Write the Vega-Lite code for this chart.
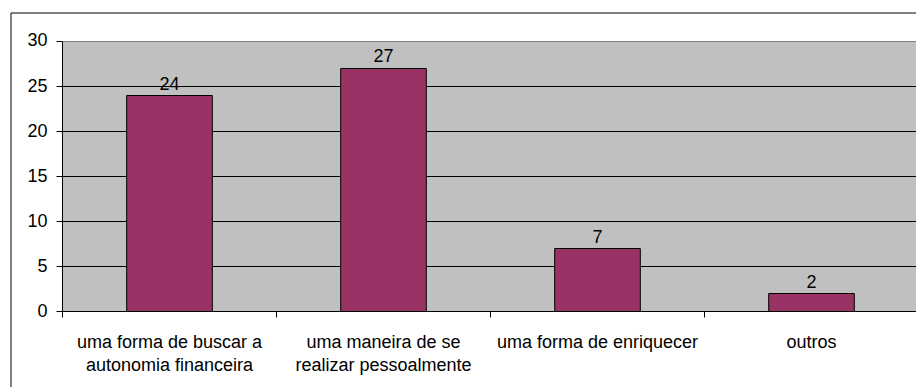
{
  "$schema": "https://vega.github.io/schema/vega-lite/v6.json",
  "width": 908,
  "height": 377,
  "autosize": "none",
  "padding": {"left": 10.5, "top": 12.5, "right": -2.5, "bottom": -2.5},
  "background": "white",
  "view": {"stroke": "#000", "strokeWidth": 1, "fill": "white"},
  "config": {
    "view": {"stroke": "#000", "strokeWidth": 1, "fill": "white"},
    "font": "Liberation Sans",
    "text": {"font": "Liberation Sans"}
  },
  "datasets": {
    "answers": [
      {"cat": "uma forma de buscar a\nautonomia financeira", "n": 24},
      {"cat": "uma maneira de se\nrealizar pessoalmente", "n": 27},
      {"cat": "uma forma de enriquecer", "n": 7},
      {"cat": "outros", "n": 2}
    ],
    "gridlines": [{"v": 0}, {"v": 5}, {"v": 10}, {"v": 15}, {"v": 20}, {"v": 25}],
    "valueAxis": [{"lo": 0, "hi": 30}]
  },
  "layer": [
    {
      "data": {"values": [{}]},
      "mark": {"type": "rect", "fill": "#c0c0c0", "stroke": "#808080", "strokeWidth": 1},
      "encoding": {
        "x": {"datum": "uma forma de buscar a\nautonomia financeira", "type": "nominal", "bandPosition": 0, "title": null},
        "x2": {"datum": "outros", "bandPosition": 1},
        "y": {"datum": 30, "type": "quantitative", "title": null},
        "y2": {"datum": 0}
      }
    },
    {
      "data": {"name": "gridlines"},
      "mark": {"type": "rule", "color": "#000", "strokeWidth": 1},
      "encoding": {
        "x": {"datum": "uma forma de buscar a\nautonomia financeira", "type": "nominal", "bandPosition": 0, "title": null},
        "x2": {"datum": "outros", "bandPosition": 1},
        "y": {"field": "v", "type": "quantitative", "title": null}
      }
    },
    {
      "data": {"name": "answers"},
      "mark": {"type": "bar", "fill": "#993366", "stroke": "#000", "strokeWidth": 1, "width": {"band": 0.4}},
      "encoding": {
        "x": {
          "field": "cat",
          "type": "nominal",
          "sort": null,
          "scale": {
            "type": "band",
            "domain": [
              "uma forma de buscar a\nautonomia financeira",
              "uma maneira de se\nrealizar pessoalmente",
              "uma forma de enriquecer",
              "outros"
            ],
            "paddingInner": 0,
            "paddingOuter": 0.121495,
            "align": 1,
            "round": false
          },
          "axis": {
            "orient": "bottom",
            "offset": -78,
            "translate": 0,
            "tickBand": "extent",
            "domain": false,
            "grid": false,
            "ticks": true,
            "tickSize": 6,
            "tickColor": "#000",
            "tickWidth": 1,
            "labelAngle": 0,
            "labelAlign": "center",
            "labelColor": "#000",
            "labelFont": "Liberation Sans",
            "labelFontSize": 18,
            "labelPadding": 30,
            "labelBaseline": "alphabetic",
            "labelLineHeight": 23,
            "labelLimit": 0,
            "labelExpr": "split(datum.label, '\\n')",
            "title": null
          }
        },
        "y": {
          "field": "n",
          "type": "quantitative",
          "scale": {"domain": [-8.666667, 33.222222], "nice": false, "zero": false},
          "axis": {
            "orient": "left",
            "offset": -52,
            "translate": 0,
            "values": [0, 5, 10, 15, 20, 25, 30],
            "domain": false,
            "grid": false,
            "ticks": true,
            "tickSize": 6,
            "tickColor": "#000",
            "tickWidth": 1,
            "labelColor": "#000",
            "labelFont": "Liberation Sans",
            "labelFontSize": 18,
            "labelPadding": 9,
            "title": null
          }
        }
      }
    },
    {
      "data": {"name": "valueAxis"},
      "mark": {"type": "rule", "color": "#000", "strokeWidth": 1},
      "encoding": {
        "x": {"datum": "uma forma de buscar a\nautonomia financeira", "type": "nominal", "bandPosition": 0, "title": null},
        "y": {"field": "lo", "type": "quantitative", "title": null},
        "y2": {"field": "hi"}
      }
    },
    {
      "data": {"name": "answers"},
      "mark": {"type": "text", "font": "Liberation Sans", "fontSize": 18, "color": "#000", "baseline": "alphabetic", "align": "center", "dy": -6},
      "encoding": {
        "x": {"field": "cat", "type": "nominal", "sort": null, "title": null},
        "y": {"field": "n", "type": "quantitative", "title": null},
        "text": {"field": "n", "type": "quantitative"}
      }
    }
  ]
}
